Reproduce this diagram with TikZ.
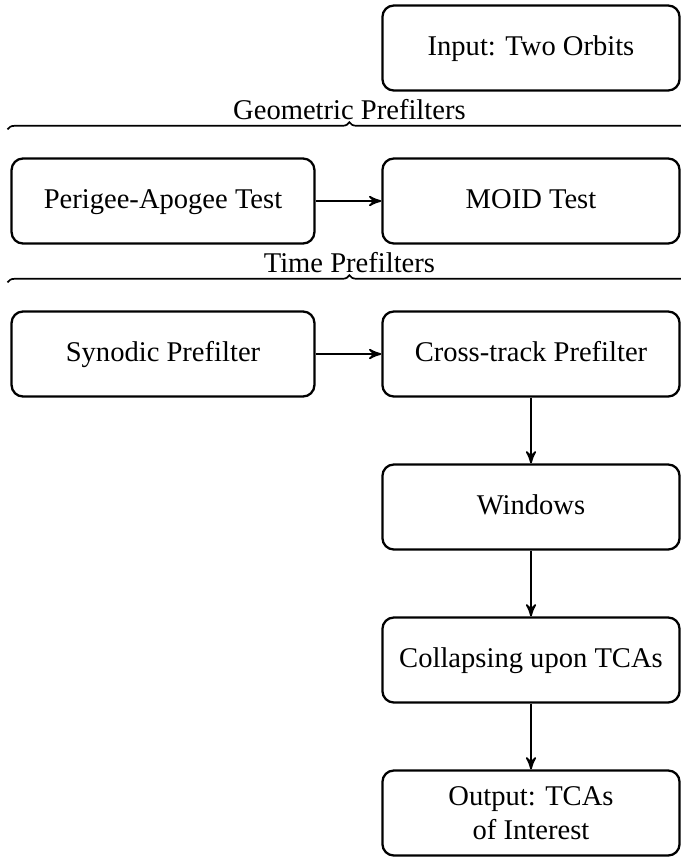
\documentclass[tikz,border=0pt]{standalone}
\usepackage{fontspec}
\setmainfont{Liberation Serif}
\usetikzlibrary{positioning}
\usetikzlibrary{arrows}
\usetikzlibrary{decorations.pathreplacing}
\tikzset{	node distance=23pt,
	block/.style={
		draw,
		thick,
		rounded corners=4pt,
		minimum width=104pt,
		minimum height=29.75pt,
		text height=1.6ex,
		text depth=0.45ex,
		align=center},
	wideblock/.style={
		block,
		minimum width=106pt},
	prefilter/.style={
		decorate,
		decoration={brace, amplitude=2.5pt},
		semithick},
	bracelabel/.style={anchor=base, yshift=3.6pt},
	every edge/.style={
		draw,
		->, >=stealth',
		semithick}
}

\begin{document}
\begin{tikzpicture}
			\clip (0,0) rectangle (238.35pt,-300.65pt);
			\node[block] (input) at (185.85pt,-16.8pt) {Input:  Two Orbits};
			\node[block, below=of input] (moid) {MOID Test};
			\node[wideblock, left=of moid] (pa) {Perigee-Apogee Test};
			\node[block, below=of moid] (cross) {Cross-track Prefilter};
			\node[wideblock, left=of cross] (syn) {Synodic Prefilter};
			\node[block, below=of cross] (win) {Windows};
			\node[block, below=of win] (tca) {Collapsing upon TCAs};
			\node[block, text height=, text depth=, below=of tca] (out) {Output: TCAs\\of Interest};
			% braces over the two groups
			\path (pa.north west) ++(-1pt,9.8pt) coordinate (geoL);
			\path (moid.north east) ++(3.7pt,9.8pt) coordinate (geoR);
			\path (syn.north west) ++(-1pt,9.8pt) coordinate (timeL);
			\path (cross.north east) ++(3.7pt,9.8pt) coordinate (timeR);
			\draw[prefilter] (geoL) -- (geoR) node[midway, bracelabel] {Geometric Prefilters};
			\draw[prefilter] (timeL) -- (timeR) node[midway, bracelabel] {Time Prefilters};
			\draw (pa) edge (moid);
			\draw (syn) edge (cross);
			\draw (cross) edge (win);
			\draw (win) edge (tca);
			\draw (tca) edge (out);
		\end{tikzpicture}
\end{document}
